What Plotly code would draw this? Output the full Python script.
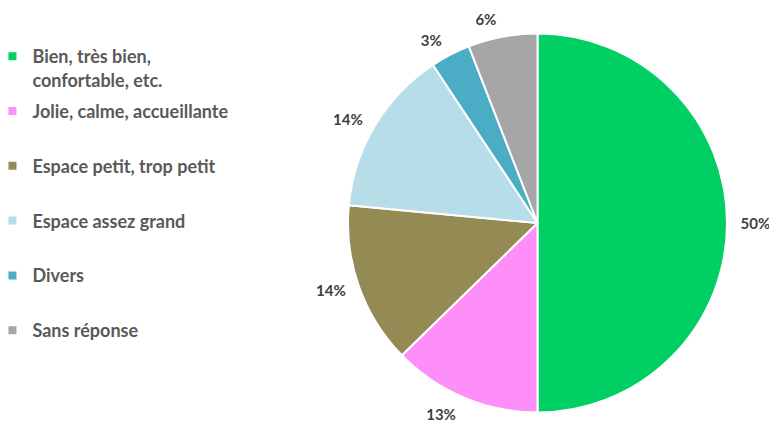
import plotly.graph_objects as go

categories = ["Bien, très bien,<br>confortable, etc.",
              "Jolie, calme, accueillante",
              "Espace petit, trop petit",
              "Espace assez grand",
              "Divers",
              "Sans réponse"]
values = [50.0, 12.7, 13.8, 14.2, 3.4, 5.9]
colors = ["#00CF64", "#FF8FF8", "#948A54", "#B7DDE8", "#4BACC6", "#A6A6A6"]

W, H = 777, 432
cx0, cx1, cy0, cy1 = 340, 719, 25, 405
pad = 9  # extra radial distance for the percentage labels

fig = go.Figure()
fig.add_trace(go.Pie(
    labels=categories, values=values, sort=False, direction="clockwise", rotation=0,
    marker=dict(colors=colors, line=dict(color="white", width=2)),
    textinfo="none",
    showlegend=False, hoverinfo="label+percent",
    domain=dict(x=[cx0 / W, cx1 / W], y=[1 - cy1 / H, 1 - cy0 / H]),
))
# transparent, slightly larger pie carrying the outside percentage labels
fig.add_trace(go.Pie(
    labels=categories, values=values, sort=False, direction="clockwise", rotation=0,
    marker=dict(colors=["rgba(0,0,0,0)"] * len(values), line=dict(width=0)),
    texttemplate="%{percent:.0%}", textposition="outside",
    textfont=dict(family="Lato", size=15, color="#404040", weight="bold"),
    showlegend=False, hoverinfo="skip",
    domain=dict(x=[(cx0 - pad) / W, (cx1 + pad) / W],
                y=[1 - (cy1 + pad) / H, 1 - (cy0 - pad) / H]),
))

for lab, col in zip(categories, colors):
    name = lab if "<br>" in lab else lab + "<br>&nbsp;"
    fig.add_trace(go.Scatter(
        x=[None], y=[None], mode="markers", name=name, legendgroup=lab,
        marker=dict(symbol="square", size=8, color=col),
        showlegend=True, hoverinfo="skip",
    ))

fig.update_layout(
    width=W, height=H,
    margin=dict(l=0, r=0, t=0, b=0, autoexpand=False),
    paper_bgcolor="white", plot_bgcolor="white",
    xaxis=dict(visible=False), yaxis=dict(visible=False),
    legend=dict(
        orientation="v", x=-0.02, xanchor="left", y=1 - 30 / H, yanchor="top",
        valign="top", tracegroupgap=5, bgcolor="rgba(0,0,0,0)",
        font=dict(family="Lato", size=18, color="#595959", weight="bold"),
        itemclick=False, itemdoubleclick=False,
    ),
)

fig.write_html("out.html")
